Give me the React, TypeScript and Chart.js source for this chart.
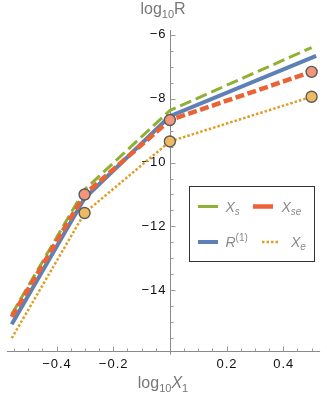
import React, { useEffect, useRef } from "react";
import { Chart, registerables } from "chart.js";

Chart.register(...registerables);

// ---- data ----
const xPoints = [-0.558, -0.301, 0, 0.5];
const r1XPoints = [-0.558, -0.301, 0, 0.516];
const xsValues = [-14.75, -10.85, -8.37, -6.4];
const xseValues = [-14.83, -11.0, -8.67, -7.16];
const r1Values = [-15.06, -11.12, -8.55, -6.66];
const xeValues = [-15.5, -11.58, -9.34, -7.94];
const markerX = [-0.301, 0, 0.5];
const xseMarkers = [-11.0, -8.67, -7.16];
const xeMarkers = [-11.58, -9.34, -7.94];
const xTickLabels = [-0.4, -0.2, 0.2, 0.4];
const yTickLabels = [-6, -8, -10, -12, -14];

const GREEN = "#8FB032";
const RED = "#EB6235";
const BLUE = "#5E81B5";
const ORANGE = "#E19C24";

const fmt = (v: number) => (v < 0 ? "\u2212" : "") + String(Math.abs(v));

type Seg = { t: string; font: string; dy: number };
function drawRich(ctx: CanvasRenderingContext2D, segs: Seg[], x: number, y: number, align: "left" | "center") {
  let total = 0;
  for (const s of segs) {
    ctx.font = s.font;
    total += ctx.measureText(s.t).width;
  }
  let cx = align === "center" ? x - total / 2 : x;
  ctx.textAlign = "left";
  ctx.textBaseline = "alphabetic";
  for (const s of segs) {
    ctx.font = s.font;
    ctx.fillText(s.t, cx, y + s.dy);
    cx += ctx.measureText(s.t).width;
  }
}

const FONT = "'Liberation Sans', Arial, sans-serif";

const axesPlugin = {
  id: "mmaAxes",
  beforeDatasetsDraw(chart: any) {
    const { ctx, chartArea } = chart;
    const xs = chart.scales.x;
    const ys = chart.scales.y;
    const x0 = Math.round(xs.getPixelForValue(0)) + 0.5;
    const yb = Math.round(chartArea.bottom) + 0.5;
    ctx.save();
    ctx.strokeStyle = "#8a8a8a";
    ctx.lineWidth = 1;
    ctx.beginPath();
    ctx.moveTo(chartArea.left, yb);
    ctx.lineTo(chartArea.right, yb);
    ctx.moveTo(x0, chartArea.top);
    ctx.lineTo(x0, yb + 3);
    ctx.stroke();
    // x ticks
    ctx.strokeStyle = "#9a9a9a";
    ctx.beginPath();
    for (let k = -12; k <= 11; k++) {
      const v = k * 0.05;
      const px = Math.round(xs.getPixelForValue(v)) + 0.5;
      if (px < chartArea.left || px > chartArea.right || k === 0) continue;
      const len = k % 4 === 0 ? 5 : 3;
      ctx.moveTo(px, yb);
      ctx.lineTo(px, yb - len);
    }
    // y ticks
    for (let k = -32; k <= -12; k++) {
      const v = k * 0.5;
      const py = Math.round(ys.getPixelForValue(v)) + 0.5;
      if (py < chartArea.top || py > chartArea.bottom - 2) continue;
      const len = k % 4 === 0 ? 5 : 3;
      ctx.moveTo(x0, py);
      ctx.lineTo(x0 + len, py);
    }
    ctx.stroke();
    // tick labels
    ctx.fillStyle = "#111111";
    ctx.font = `13px ${FONT}`;
    (ctx as any).letterSpacing = "1px";
    ctx.textAlign = "right";
    ctx.textBaseline = "middle";
    for (const v of yTickLabels) {
      ctx.fillText(fmt(v), x0 - 4, ys.getPixelForValue(v));
    }
    ctx.textAlign = "center";
    for (const v of xTickLabels) {
      ctx.fillText(fmt(v), xs.getPixelForValue(v) + 0.5, yb + 13);
    }
    (ctx as any).letterSpacing = "0px";
    // axis titles
    ctx.fillStyle = "#777777";
    drawRich(
      ctx,
      [
        { t: "log", font: `16px ${FONT}`, dy: 0 },
        { t: "10", font: `11px ${FONT}`, dy: 3.5 },
        { t: "X", font: `italic 16px ${FONT}`, dy: 0 },
        { t: "1", font: `11px ${FONT}`, dy: 3.5 },
      ],
      163,
      388,
      "center"
    );
    drawRich(
      ctx,
      [
        { t: "log", font: `16px ${FONT}`, dy: 0 },
        { t: "10", font: `11px ${FONT}`, dy: 3.5 },
        { t: "R", font: `16px ${FONT}`, dy: 0 },
      ],
      163,
      14,
      "center"
    );
    ctx.restore();
  },
  afterDatasetsDraw(chart: any) {
    const { ctx } = chart;
    ctx.save();
    // legend box
    ctx.fillStyle = "#ffffff";
    ctx.fillRect(189.5, 186.5, 125, 75);
    ctx.strokeStyle = "#333333";
    ctx.lineWidth = 1;
    ctx.strokeRect(189.5, 186.5, 125, 75);
    const row1 = 206.5;
    const row2 = 242;
    const line = (x1: number, x2: number, yy: number, color: string, w: number, dash: number[]) => {
      ctx.beginPath();
      ctx.strokeStyle = color;
      ctx.lineWidth = w;
      ctx.setLineDash(dash);
      ctx.moveTo(x1, yy);
      ctx.lineTo(x2, yy);
      ctx.stroke();
      ctx.setLineDash([]);
    };
    line(198, 218, row1, GREEN, 3, []);
    line(253, 273, row1, RED, 4.5, []);
    line(198, 218, row2, BLUE, 4, []);
    line(262, 280, row2, ORANGE, 2.5, [2.5, 2]);
    ctx.fillStyle = "#8a8a8a";
    drawRich(ctx, [
      { t: "X", font: `italic 14px ${FONT}`, dy: 0 },
      { t: "s", font: `italic 10px ${FONT}`, dy: 3 },
    ], 225.5, row1 + 5, "left");
    drawRich(ctx, [
      { t: "X", font: `italic 14px ${FONT}`, dy: 0 },
      { t: "se", font: `italic 10px ${FONT}`, dy: 3 },
    ], 281.5, row1 + 5, "left");
    drawRich(ctx, [
      { t: "R", font: `italic 14px ${FONT}`, dy: 0 },
      { t: "(1)", font: `10px ${FONT}`, dy: -6 },
    ], 225.5, row2 + 5, "left");
    drawRich(ctx, [
      { t: "X", font: `italic 14px ${FONT}`, dy: 0 },
      { t: "e", font: `italic 10px ${FONT}`, dy: 3 },
    ], 291, row2 + 5, "left");
    ctx.restore();
  },
};

const toPts = (xsArr: number[], ysArr: number[]) => xsArr.map((x, i) => ({ x, y: ysArr[i] }));

export default function App() {
  const ref = useRef<HTMLCanvasElement | null>(null);
  useEffect(() => {
    if (!ref.current) return;
    const lineBase = { pointRadius: 0, tension: 0, fill: false, clip: false as any, borderCapStyle: "butt" as const };
    const chart = new Chart(ref.current, {
      type: "line",
      data: {
        datasets: [
          {
            label: "Xse markers",
            data: toPts(markerX, xseMarkers),
            showLine: false,
            pointRadius: 5.5,
            pointBorderWidth: 1.4,
            pointBorderColor: "#595959",
            pointBackgroundColor: "#F2957B",
            clip: false as any,
            order: 0,
          },
          {
            label: "Xe markers",
            data: toPts(markerX, xeMarkers),
            showLine: false,
            pointRadius: 5.5,
            pointBorderWidth: 1.4,
            pointBorderColor: "#595959",
            pointBackgroundColor: "#EDBA62",
            clip: false as any,
            order: 0,
          },
          { ...lineBase, label: "Xe", data: toPts(xPoints, xeValues), borderColor: ORANGE, borderWidth: 2.5, borderDash: [2.5, 2], order: 1 },
          { ...lineBase, label: "Xse", data: toPts(xPoints, xseValues), borderColor: RED, borderWidth: 4.5, borderDash: [9, 3.5], order: 2 },
          { ...lineBase, label: "R1", data: toPts(r1XPoints, r1Values), borderColor: BLUE, borderWidth: 4, order: 3 },
          { ...lineBase, label: "Xs", data: toPts(xPoints, xsValues), borderColor: GREEN, borderWidth: 3, borderDash: [12, 5], order: 4 },
        ],
      },
      options: {
        animation: false,
        responsive: false,
        layout: { padding: { left: 0, right: 2, top: 30, bottom: 44 } },
        plugins: { legend: { display: false }, tooltip: { enabled: false }, title: { display: false } },
        scales: {
          x: { type: "linear", min: -0.575, max: 0.53, display: false },
          y: { type: "linear", min: -15.9, max: -5.85, display: false },
        },
      },
      plugins: [axesPlugin],
    });
    return () => chart.destroy();
  }, []);
  return (
    <div style={{ position: "fixed", left: 0, top: 0, width: 327, height: 395, background: "#fff" }}>
      <canvas ref={ref} width={327} height={395} style={{ display: "block" }} />
    </div>
  );
}
